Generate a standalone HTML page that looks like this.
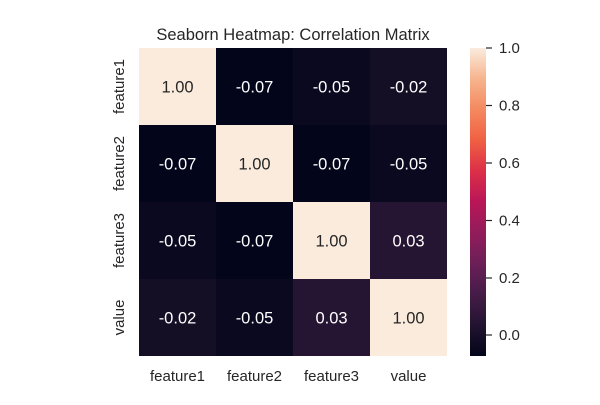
<!DOCTYPE html>
<html><head><meta charset="utf-8"><style>
body{margin:0;background:#fff;}
svg text{font-family:"Liberation Sans",Arial,sans-serif;}
</style></head><body>
<svg width="600" height="400" xmlns="http://www.w3.org/2000/svg">
<defs><linearGradient id="g" x1="0" y1="1" x2="0" y2="0">
<stop offset="0" stop-color="#03051a"/><stop offset="0.1" stop-color="#221331"/>
<stop offset="0.2" stop-color="#451c47"/><stop offset="0.3" stop-color="#6b1f56"/>
<stop offset="0.4" stop-color="#921c5b"/><stop offset="0.5" stop-color="#b91657"/>
<stop offset="0.6" stop-color="#dc2f48"/><stop offset="0.7" stop-color="#f06043"/>
<stop offset="0.8" stop-color="#f4895f"/><stop offset="0.9" stop-color="#f6b48e"/>
<stop offset="1" stop-color="#faebdd"/></linearGradient></defs>
<rect width="600" height="400" fill="#fff"/>
<text x="293" y="40" font-size="16.5" text-anchor="middle" fill="#262626">Seaborn Heatmap: Correlation Matrix</text>
<g>
<rect x="139" y="48" width="77" height="77" fill="#faebdd"/>
<rect x="216" y="48" width="77" height="77" fill="#03051a"/>
<rect x="293" y="48" width="77" height="77" fill="#0b0920"/>
<rect x="370" y="48" width="77" height="77" fill="#150f26"/>
<rect x="139" y="125" width="77" height="77" fill="#03051a"/>
<rect x="216" y="125" width="77" height="77" fill="#faebdd"/>
<rect x="293" y="125" width="77" height="77" fill="#03051a"/>
<rect x="370" y="125" width="77" height="77" fill="#0b0920"/>
<rect x="139" y="202" width="77" height="77" fill="#0b0920"/>
<rect x="216" y="202" width="77" height="77" fill="#03051a"/>
<rect x="293" y="202" width="77" height="77" fill="#faebdd"/>
<rect x="370" y="202" width="77" height="77" fill="#261433"/>
<rect x="139" y="279" width="77" height="77" fill="#150f26"/>
<rect x="216" y="279" width="77" height="77" fill="#0b0920"/>
<rect x="293" y="279" width="77" height="77" fill="#261433"/>
<rect x="370" y="279" width="77" height="77" fill="#faebdd"/>
</g>
<g font-size="16.5" text-anchor="middle">
<text x="177.5" y="92.5" fill="#262626">1.00</text><text x="254.5" y="92.5" fill="#fff">-0.07</text><text x="331.5" y="92.5" fill="#fff">-0.05</text><text x="408.5" y="92.5" fill="#fff">-0.02</text>
<text x="177.5" y="169.5" fill="#fff">-0.07</text><text x="254.5" y="169.5" fill="#262626">1.00</text><text x="331.5" y="169.5" fill="#fff">-0.07</text><text x="408.5" y="169.5" fill="#fff">-0.05</text>
<text x="177.5" y="246.5" fill="#fff">-0.05</text><text x="254.5" y="246.5" fill="#fff">-0.07</text><text x="331.5" y="246.5" fill="#262626">1.00</text><text x="408.5" y="246.5" fill="#fff">0.03</text>
<text x="177.5" y="323.5" fill="#fff">-0.02</text><text x="254.5" y="323.5" fill="#fff">-0.05</text><text x="331.5" y="323.5" fill="#fff">0.03</text><text x="408.5" y="323.5" fill="#262626">1.00</text>
</g>
<g font-size="15" fill="#262626" text-anchor="middle">
<text x="177.5" y="381">feature1</text><text x="254.5" y="381">feature2</text><text x="331.5" y="381">feature3</text><text x="408.5" y="381">value</text>
<text transform="translate(124,86.5) rotate(-90)">feature1</text>
<text transform="translate(124,163.5) rotate(-90)">feature2</text>
<text transform="translate(124,240.5) rotate(-90)">feature3</text>
<text transform="translate(124,317.5) rotate(-90)">value</text>
</g>
<rect x="470" y="48" width="16" height="308" fill="url(#g)"/>
<g stroke="#262626" stroke-width="1.2">
<line x1="486" y1="48" x2="492" y2="48"/><line x1="486" y1="105.5" x2="492" y2="105.5"/>
<line x1="486" y1="163" x2="492" y2="163"/><line x1="486" y1="220.5" x2="492" y2="220.5"/>
<line x1="486" y1="278" x2="492" y2="278"/><line x1="486" y1="335" x2="492" y2="335"/>
</g>
<g font-size="15" fill="#262626">
<text x="499" y="53">1.0</text><text x="499" y="110.5">0.8</text><text x="499" y="168">0.6</text>
<text x="499" y="225.5">0.4</text><text x="499" y="283">0.2</text><text x="499" y="340">0.0</text>
</g>
</svg>
</body></html>
